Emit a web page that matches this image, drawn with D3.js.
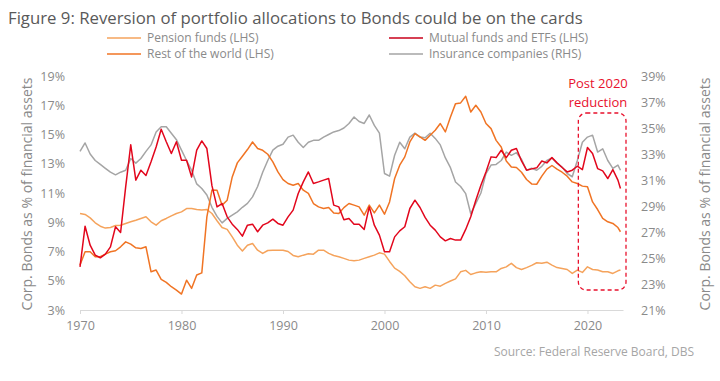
<!DOCTYPE html>
<html>
<head>
<meta charset="utf-8">
<script src="https://cdn.jsdelivr.net/npm/d3@7"></script>
<style>
  body { margin: 0; background: #fff; }
  svg text { font-family: "Open Sans", "Noto Sans", sans-serif; }
</style>
</head>
<body>
<svg id="chart" width="720" height="381"></svg>
<script>
// half-yearly points
const years = [
  1970, 1970.5, 1971, 1971.5, 1972, 1972.5, 1973, 1973.5, 1974, 1974.5,
  1975, 1975.5, 1976, 1976.5, 1977, 1977.5, 1978, 1978.5, 1979, 1979.5,
  1980, 1980.5, 1981, 1981.5, 1982, 1982.5, 1983, 1983.5, 1984, 1984.5,
  1985, 1985.5, 1986, 1986.5, 1987, 1987.5, 1988, 1988.5, 1989, 1989.5,
  1990, 1990.5, 1991, 1991.5, 1992, 1992.5, 1993, 1993.5, 1994, 1994.5,
  1995, 1995.5, 1996, 1996.5, 1997, 1997.5, 1998, 1998.5, 1999, 1999.5,
  2000, 2000.5, 2001, 2001.5, 2002, 2002.5, 2003, 2003.5, 2004, 2004.5,
  2005, 2005.5, 2006, 2006.5, 2007, 2007.5, 2008, 2008.5, 2009, 2009.5,
  2010, 2010.5, 2011, 2011.5, 2012, 2012.5, 2013, 2013.5, 2014, 2014.5,
  2015, 2015.5, 2016, 2016.5, 2017, 2017.5, 2018, 2018.5, 2019, 2019.5,
  2020, 2020.5, 2021, 2021.5, 2022, 2022.5, 2023, 2023.25
];

const pensionFunds = [
  9.6, 9.53, 9.3, 8.96, 8.73, 8.6, 8.64, 8.78, 8.8, 8.92,
  9.03, 9.14, 9.26, 9.37, 9.03, 8.8, 9.1, 9.26, 9.44, 9.6,
  9.71, 9.94, 9.94, 9.87, 9.83, 9.87, 9.6, 9.1, 8.64, 8.51,
  8.0, 7.43, 7.03, 7.43, 7.55, 7.09, 6.87, 7.07, 7.09, 7.09,
  7.09, 7.0, 6.73, 6.64, 6.75, 6.84, 6.82, 7.09, 7.09, 6.87,
  6.73, 6.64, 6.53, 6.41, 6.37, 6.41, 6.53, 6.64, 6.75, 6.91,
  6.82, 6.32, 5.86, 5.64, 5.34, 4.93, 4.59, 4.48, 4.59, 4.48,
  4.7, 4.63, 4.82, 4.98, 5.13, 5.61, 5.71, 5.43, 5.54, 5.61,
  5.58, 5.61, 5.61, 5.84, 5.95, 6.19, 5.9, 5.77, 5.9, 6.05,
  6.23, 6.19, 6.27, 6.07, 5.9, 5.84, 5.77, 5.5, 5.73, 5.57,
  5.95, 5.77, 5.73, 5.61, 5.61, 5.5, 5.68, 5.73
];

const mutualFunds = [
  5.95, 8.73, 7.43, 6.75, 6.57, 6.82, 7.32, 8.69, 8.3, 11.42,
  14.3, 11.88, 12.56, 12.2, 13.13, 14.15, 15.36, 14.5, 13.7, 14.5,
  13.24, 13.24, 12.1, 13.93, 14.56, 14.04, 11.5, 10.05, 10.28, 9.37,
  8.87, 8.51, 8.05, 8.8, 8.87, 8.35, 8.8, 8.96, 9.21, 8.92,
  8.8, 9.37, 9.83, 10.97, 11.76, 12.44, 11.65, 11.76, 11.88, 11.99,
  10.17, 10.05, 9.17, 9.26, 8.87, 8.87, 8.51, 10.05, 8.8, 8.12,
  6.98, 6.98, 8.0, 8.41, 8.69, 9.94, 10.51, 10.01, 9.33, 8.8,
  8.46, 8.0, 7.73, 7.89, 7.78, 7.78, 8.51, 9.37, 10.51, 11.53,
  12.44, 13.47, 13.42, 13.92, 13.42, 13.92, 14.04, 13.19, 12.56, 12.65,
  12.72, 13.19, 13.06, 13.42, 13.06, 12.74, 12.44, 12.56, 12.83, 12.6,
  14.11, 13.7, 12.67, 12.51, 11.99, 12.6, 11.88, 11.31
];

const restOfWorld = [
  6.07, 6.98, 6.98, 6.64, 6.64, 6.82, 6.98, 7.05, 7.32, 7.66,
  7.5, 7.25, 7.21, 7.32, 5.61, 5.73, 5.09, 4.89, 4.59, 4.36,
  4.09, 5.04, 4.48, 5.39, 5.54, 9.37, 11.2, 11.19, 10.17, 10.51,
  12.1, 13.06, 13.51, 13.97, 14.49, 14.04, 13.92, 13.65, 13.13, 12.44,
  11.92, 11.65, 11.53, 11.65, 11.19, 10.97, 10.28, 10.05, 9.94, 10.01,
  9.64, 9.6, 10.0, 10.28, 10.17, 10.05, 9.48, 10.17, 9.64, 10.17,
  9.55, 10.39, 11.99, 12.9, 13.47, 14.49, 15.06, 14.83, 14.6, 14.95,
  15.29, 15.75, 15.18, 16.2, 17.11, 17.16, 17.61, 16.54, 17.0, 16.54,
  15.75, 15.4, 14.6, 14.15, 13.19, 12.78, 12.74, 12.42, 11.92, 11.62,
  11.6, 12.15, 12.63, 12.88, 12.63, 12.42, 12.15, 11.76, 11.65, 11.47,
  11.42, 10.39, 9.87, 9.26, 9.03, 8.92, 8.64, 8.35
];

const insuranceCos = [
  33.2, 33.85, 33.0, 32.5, 32.2, 31.9, 31.6, 31.4, 31.6, 31.75,
  32.65, 32.3, 32.65, 33.2, 33.7, 34.7, 35.1, 35.1, 34.6, 34.1,
  33.3, 32.5, 31.75, 30.7, 30.35, 29.85, 28.9, 28.2, 27.7, 28.05,
  28.3, 28.55, 28.9, 29.2, 29.7, 30.5, 31.6, 32.5, 33.3, 33.6,
  33.75, 34.3, 34.45, 33.9, 33.5, 33.9, 34.05, 34.05, 34.3, 34.5,
  34.7, 34.8, 35.0, 35.35, 35.85, 35.5, 35.35, 36.0, 35.2, 34.6,
  31.5, 31.3, 32.9, 33.9, 33.4, 34.3, 34.6, 34.3, 34.25, 34.6,
  34.2, 33.7, 32.7, 31.95, 30.85, 30.5, 29.95, 28.4, 29.2, 30.0,
  31.5, 32.15, 32.2, 32.5, 33.15, 32.9, 33.1, 32.6, 31.75, 31.9,
  31.75, 32.05, 32.5, 32.7, 32.3, 32.0, 31.5, 31.25, 32.5, 33.9,
  34.3, 34.45, 33.15, 33.4, 32.5, 31.9, 32.15, 31.75
];

const xTicks = [1970, 1980, 1990, 2000, 2010, 2020];
const leftTicks = [3, 5, 7, 9, 11, 13, 15, 17, 19];
const rightTicks = [21, 23, 25, 27, 29, 31, 33, 35, 37, 39];

const seriesNames = ["Pension funds (LHS)", "Mutual funds and ETFs (LHS)", "Rest of the world (LHS)", "Insurance companies (RHS)"];
const seriesColors = ["#f5a35c", "#e2061c", "#f07424", "#a5a5a5"];

const svg = d3.select("#chart");
const textGrey = "#8a8a8a";

const x = d3.scaleLinear().domain([1970, 2023.5]).range([80, 623]);
const yL = d3.scaleLinear().domain([3, 19]).range([310, 76]);
const yR = d3.scaleLinear().domain([21, 39]).range([310, 76]);

// title
svg.append("text")
    .attr("x", 8)
    .attr("y", 24)
    .attr("fill", "#595959")
    .attr("font-size", 16.75)
    .text("Figure 9: Reversion of portfolio allocations to Bonds could be on the cards");

// legend, two columns
const legendPos = [[107, 38], [389, 38], [107, 54], [389, 54]];
const legend = svg.append("g").attr("class", "legend");
seriesNames.forEach((name, s) => {
    const [lx, ly] = legendPos[s];
    legend.append("line")
        .attr("x1", lx).attr("x2", lx + 34)
        .attr("y1", ly).attr("y2", ly)
        .attr("stroke", s === 1 ? "#c8001a" : seriesColors[s])
        .attr("stroke-width", 1.5);
    legend.append("text")
        .attr("x", lx + 40)
        .attr("y", ly)
        .attr("dy", "0.35em")
        .attr("font-size", 12)
        .attr("fill", textGrey)
        .text(name);
});

// axes
const xAxis = svg.append("g")
    .attr("transform", "translate(0,310)")
    .call(d3.axisBottom(x).tickValues(xTicks).tickFormat(d3.format("d")).tickSize(4).tickSizeOuter(0).tickPadding(7));
xAxis.select(".domain").attr("stroke", "#d9d9d9");
xAxis.selectAll(".tick line").attr("stroke", "#d9d9d9");
xAxis.selectAll("text").attr("fill", textGrey).attr("font-size", 12.5).style("font-family", "Open Sans");

const leftAxis = svg.append("g")
    .attr("transform", "translate(80,0)")
    .call(d3.axisLeft(yL).tickValues(leftTicks).tickFormat(d => d + "%").tickSize(0).tickPadding(15));
leftAxis.select(".domain").remove();
leftAxis.selectAll("text").attr("fill", textGrey).attr("font-size", 12.5).style("font-family", "Open Sans");

const rightAxis = svg.append("g")
    .attr("transform", "translate(623,0)")
    .call(d3.axisRight(yR).tickValues(rightTicks).tickFormat(d => d + "%").tickSize(0).tickPadding(18));
rightAxis.select(".domain").remove();
rightAxis.selectAll("text").attr("fill", textGrey).attr("font-size", 12.5).style("font-family", "Open Sans");

// axis titles
svg.append("text")
    .attr("transform", "translate(32,194) rotate(-90)")
    .attr("text-anchor", "middle")
    .attr("font-size", 14)
    .attr("fill", textGrey)
    .text("Corp. Bonds as % of financial assets");
svg.append("text")
    .attr("transform", "translate(710,194) rotate(-90)")
    .attr("text-anchor", "middle")
    .attr("font-size", 14)
    .attr("fill", textGrey)
    .text("Corp. Bonds as % of financial assets");

// lines
const seriesData = [pensionFunds, mutualFunds, restOfWorld, insuranceCos];
const seriesScale = [yL, yL, yL, yR];
const drawOrder = [3, 0, 2, 1];
const lines = svg.append("g").attr("class", "lines");
drawOrder.forEach(s => {
    const line = d3.line()
        .x((d, i) => x(years[i]))
        .y(d => seriesScale[s](d));
    lines.append("path")
        .attr("d", line(seriesData[s]))
        .attr("fill", "none")
        .attr("stroke", seriesColors[s])
        .attr("stroke-width", 1.5)
        .attr("stroke-linejoin", "round");
});

// post 2020 annotation
const annoRed = "#e8112d";
svg.append("rect")
    .attr("x", x(2019.1))
    .attr("y", 113)
    .attr("width", x(2023.5) - x(2019.1) + 3)
    .attr("height", 177)
    .attr("rx", 8)
    .attr("fill", "none")
    .attr("stroke", annoRed)
    .attr("stroke-width", 1.3)
    .attr("stroke-dasharray", "4,3");
svg.append("text")
    .attr("x", 598).attr("y", 83).attr("dy", "0.35em")
    .attr("text-anchor", "middle")
    .attr("font-size", 13)
    .attr("fill", annoRed)
    .text("Post 2020");
svg.append("text")
    .attr("x", 598).attr("y", 102).attr("dy", "0.35em")
    .attr("text-anchor", "middle")
    .attr("font-size", 13)
    .attr("fill", annoRed)
    .text("reduction");

// source
svg.append("text")
    .attr("x", 694).attr("y", 352).attr("dy", "0.35em")
    .attr("text-anchor", "end")
    .attr("font-size", 12)
    .attr("fill", "#a6a6a6")
    .text("Source: Federal Reserve Board, DBS");
</script>
</body>
</html>
